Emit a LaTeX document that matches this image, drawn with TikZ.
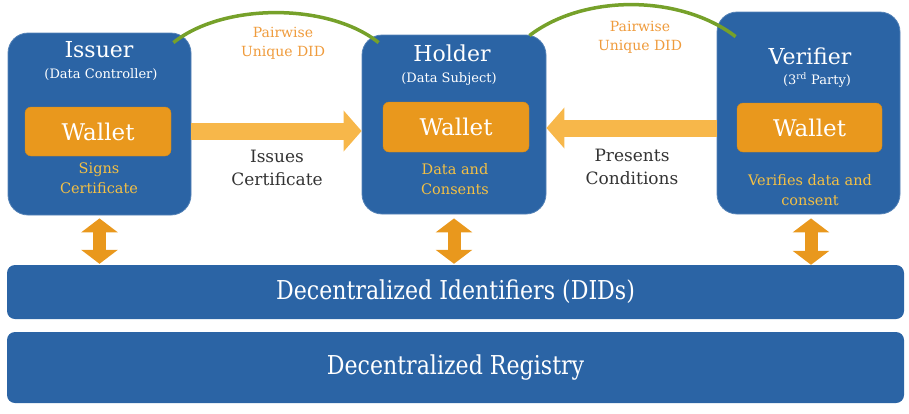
\documentclass[tikz,border=0pt]{standalone}
\usepackage{fontspec}
\setmainfont{DejaVu Serif}
\newfontfamily\barfont[FakeStretch=0.85]{DejaVu Serif}
\usetikzlibrary{arrows.meta}

\definecolor{roleblue}{HTML}{2B64A5}
\definecolor{walletorange}{HTML}{E9981D}
\definecolor{arrowlight}{HTML}{F7B74A}
\definecolor{notegold}{HTML}{F4C044}
\definecolor{pairorange}{HTML}{EF9B3C}
\definecolor{didgreen}{HTML}{76A12A}
\definecolor{textdark}{HTML}{333333}

\begin{document}
\begin{tikzpicture}[x=1pt,y=-1pt,
    role/.style={fill=roleblue, draw=roleblue!80!white, line width=0.8pt,
        rounded corners=20pt, inner sep=0pt},
    wallet/.style={fill=walletorange, draw=walletorange!90!black, line width=0.4pt,
        rounded corners=6pt, inner sep=0pt, text=white,
        font=\fontsize{23}{28}\selectfont},
    layer/.style={fill=roleblue, rounded corners=8pt, inner sep=0pt,
        minimum width=897pt, text=white, font=\barfont\fontsize{26}{30}\selectfont},
    roletitle/.style={text=white, font=\fontsize{22}{26}\selectfont},
    rolesub/.style={text=white, font=\fontsize{13}{16}\selectfont},
    rolenote/.style={text=notegold, align=center, font=\fontsize{14.5}{20}\selectfont},
    flowlabel/.style={text=textdark, align=center, font=\fontsize{17}{23}\selectfont},
    pairlabel/.style={text=pairorange, align=center, font=\fontsize{14}{19}\selectfont},
    fatarrow/.style={arrowlight, line width=17pt, -{Triangle[width=40pt,length=18pt]}},
    dblarrow/.style={walletorange, line width=13pt,
        {Triangle[width=36pt,length=14pt]}-{Triangle[width=36pt,length=14pt]}},
    didlink/.style={didgreen, line width=3.5pt}
]
    \useasboundingbox (0,0) rectangle (909,413);

    % role boxes
    \node[role, minimum width=183pt, minimum height=182pt] (issuer) at (99.5,124) {};
    \node[role, minimum width=184pt, minimum height=179pt] (holder) at (454,124.5) {};
    \node[role, minimum width=183pt, minimum height=202pt] (verifier) at (808.5,113) {};

    % wallets
    \node[wallet, minimum width=146pt, minimum height=49pt] (issuerwallet) at (98,131.5) {Wallet};
    \node[wallet, minimum width=146pt, minimum height=50pt] (holderwallet) at (456,127) {Wallet};
    \node[wallet, minimum width=145pt, minimum height=49pt] (verifierwallet) at (809.5,127.5) {Wallet};

    % titles
    \node[roletitle] (issuertitle) at (99,50) {Issuer};
    \node[rolesub] (issuersub) at (101,75) {(Data Controller)};
    \node[roletitle] (holdertitle) at (452,53) {Holder};
    \node[rolesub] (holdersub) at (449,79) {(Data Subject)};
    \node[roletitle] (verifiertitle) at (810,56) {Verifier};
    \node[rolesub] (verifiersub) at (817,80) {(3\textsuperscript{rd} Party)};

    % notes under wallets
    \node[rolenote] (issuernote) at (99,178) {Signs\\Certificate};
    \node[rolenote] (holdernote) at (455,179) {Data and\\Consents};
    \node[rolenote] (verifiernote) at (810,190) {Verifies data and\\consent};

    % layers
    \node[layer, minimum height=54pt] (dids) at (455.5,292) {Decentralized Identifiers (DIDs)};
    \node[layer, minimum height=71pt] (registry) at (455.5,367.5) {Decentralized Registry};

    % flows
    \draw[fatarrow] ([yshift=-7pt]issuer.east) -- ([yshift=-6.5pt]holder.west);
    \draw[fatarrow] ([yshift=-15pt]verifier.west) -- ([yshift=-3.5pt]holder.east);
    \node[flowlabel] (issueslabel) at (277,168) {Issues\\Certificate};
    \node[flowlabel] (presentslabel) at (632,167) {Presents\\Conditions};

    \draw[dblarrow, shorten <=3pt, shorten >=1pt] (issuer.south) -- (issuer.south |- dids.north);
    \draw[dblarrow, shorten <=4pt, shorten >=1pt] (holder.south) -- (holder.south |- dids.north);
    \draw[dblarrow, shorten <=4pt, shorten >=0pt] ([xshift=2.5pt]verifier.south) -- ([xshift=2.5pt]verifier.south |- dids.north);

    % pairwise DIDs
    \draw[didlink] ([xshift=-18pt,yshift=-10pt]issuer.north east)
        .. controls +(50,-40) and +(-50,-40) .. ([xshift=17pt,yshift=-8pt]holder.north west);
    \draw[didlink] ([xshift=-17pt,yshift=-1pt]holder.north east)
        .. controls +(55,-42) and +(-55,-42) .. ([xshift=19pt,yshift=-25pt]verifier.north west);
    \node[pairlabel] (pairleft) at (283,43) {Pairwise\\Unique DID};
    \node[pairlabel] (pairright) at (640,37) {Pairwise\\Unique DID};
\end{tikzpicture}
\end{document}
